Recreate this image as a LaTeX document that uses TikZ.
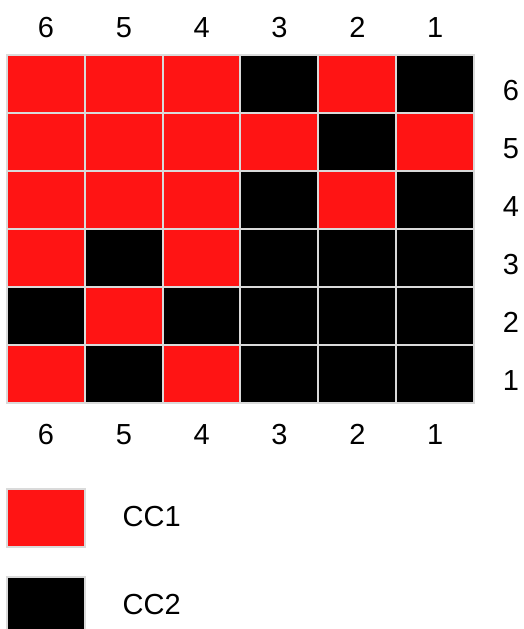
\documentclass[tikz,border=0pt]{standalone}
\usepackage{fontspec}
\setmainfont{Liberation Sans}
\definecolor{cca}{RGB}{255,20,20}
\definecolor{ccb}{RGB}{0,0,0}
\definecolor{edgegray}{RGB}{218,218,218}
\tikzset{
  cell/.style={draw=edgegray, line width=2pt},
  lbl/.style={font=\fontsize{29}{33}\selectfont, inner sep=0pt, anchor=base}
}
\begin{document}
\begin{tikzpicture}[x=1pt, y=-1pt]
    \useasboundingbox (0,0) rectangle (524,629);
    % chart cells, top row first
    \foreach \r/\line in {0/{cca,cca,cca,ccb,cca,ccb},
                          1/{cca,cca,cca,cca,ccb,cca},
                          2/{cca,cca,cca,ccb,cca,ccb},
                          3/{cca,ccb,cca,ccb,ccb,ccb},
                          4/{ccb,cca,ccb,ccb,ccb,ccb},
                          5/{cca,ccb,cca,ccb,ccb,ccb}} {
        \foreach \c [count=\i from 0] in \line {
            \draw[cell, fill=\c] (7+77.83*\i, 55+58*\r) rectangle (7+77.83*\i+77.83, 55+58*\r+58);
        }
    }
    % column and row numbers
    \foreach \n [count=\i from 0] in {6,5,4,3,2,1} {
        \node[lbl] (top\n) at (46+77.83*\i, 37) {\n};
        \node[lbl] (bot\n) at (46+77.83*\i, 444.5) {\n};
        \node[lbl] (side\n) at (511, 100.5+58*\i) {\n};
    }
    % legend
    \draw[cell, fill=cca] (7,489) rectangle (85,547);
    \node[lbl, anchor=base west] (keya) at (122.5,526.5) {CC1};
    \draw[cell, fill=ccb] (7,577) rectangle (85,635);
    \node[lbl, anchor=base west] (keyb) at (122.5,614.5) {CC2};
\end{tikzpicture}
\end{document}
